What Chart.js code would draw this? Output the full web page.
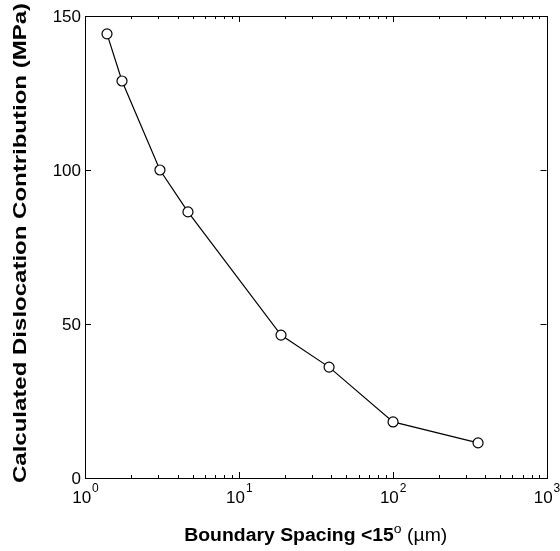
<!DOCTYPE html>
<html>
<head>
<meta charset="utf-8">
<script src="https://cdn.jsdelivr.net/npm/chart.js@4.4.1/dist/chart.umd.min.js"></script>
<style>
  html, body { margin: 0; padding: 0; background: #fff; }
  #wrap { width: 560px; height: 551px; }
</style>
</head>
<body>
<div id="wrap"><canvas id="chart"></canvas></div>
<script>
// boundary spacing (um) vs calculated dislocation contribution (MPa)
const spacing = [1.39, 1.74, 3.07, 4.67, 18.8, 38.6, 100.6, 359];
const stress = [144.2, 128.9, 100.0, 86.4, 46.4, 36.0, 18.2, 11.4];

const xDecades = [1, 10, 100, 1000];
const xDecadeExps = ["0", "1", "2", "3"];
const yTicks = [0, 50, 100, 150];

const FONT = "'Liberation Sans', Arial, Helvetica, sans-serif";

const matlabAxes = {
  id: "matlabAxes",
  afterDraw(chart) {
    const ctx = chart.ctx;
    const area = chart.chartArea;
    const xs = chart.scales.x;
    const ys = chart.scales.y;

    ctx.save();
    ctx.strokeStyle = "#000";
    ctx.lineWidth = 1;
    ctx.strokeRect(Math.round(area.left) + 0.5, Math.round(area.top) + 0.5,
      Math.round(area.right - area.left), Math.round(area.bottom - area.top));

    // x ticks, inward on bottom and top
    const tick = (px, len) => {
      const x = Math.round(px) + 0.5;
      ctx.beginPath();
      ctx.moveTo(x, area.bottom);
      ctx.lineTo(x, area.bottom - len);
      ctx.moveTo(x, area.top);
      ctx.lineTo(x, area.top + len);
      ctx.stroke();
    };
    for (let d = 0; d < xDecades.length; d++) {
      tick(xs.getPixelForValue(xDecades[d]), 6);
      if (d < xDecades.length - 1) {
        for (let m = 2; m <= 9; m++) tick(xs.getPixelForValue(xDecades[d] * m), 3);
      }
    }

    // y ticks, inward on left and right
    yTicks.forEach((v) => {
      const y = Math.round(ys.getPixelForValue(v)) + 0.5;
      ctx.beginPath();
      ctx.moveTo(area.left, y);
      ctx.lineTo(area.left + 6, y);
      ctx.moveTo(area.right, y);
      ctx.lineTo(area.right - 6, y);
      ctx.stroke();
    });

    ctx.fillStyle = "#000";

    // y tick labels
    ctx.font = "17px " + FONT;
    ctx.textAlign = "right";
    ctx.textBaseline = "middle";
    yTicks.forEach((v) => {
      ctx.fillText(String(v), area.left - 4, ys.getPixelForValue(v) + 1);
    });

    // x tick labels: 10 with superscript exponent
    ctx.textBaseline = "alphabetic";
    ctx.textAlign = "left";
    xDecades.forEach((v, i) => {
      ctx.font = "17px " + FONT;
      const w1 = ctx.measureText("10").width;
      ctx.font = "12px " + FONT;
      const w2 = ctx.measureText(xDecadeExps[i]).width;
      const start = xs.getPixelForValue(v) - (w1 + w2) / 2;
      ctx.font = "17px " + FONT;
      ctx.fillText("10", start, area.bottom + 25);
      ctx.font = "12px " + FONT;
      ctx.fillText(xDecadeExps[i], start + w1 + 1, area.bottom + 14);
    });

    // x axis title, stretched a little to match the original width
    const parts = [
      { t: "Boundary Spacing <15", f: "bold 18px " + FONT, dy: 0 },
      { t: "o", f: "13px " + FONT, dy: -8 },
      { t: " (\u00b5m)", f: "18px " + FONT, dy: 0 },
    ];
    let total = 0;
    parts.forEach((p) => { ctx.font = p.f; p.w = ctx.measureText(p.t).width; total += p.w; });
    const sx = 263 / total;
    ctx.save();
    ctx.translate((area.left + area.right) / 2 - 263 / 2, 541);
    ctx.scale(sx, 1);
    let cx = 0;
    parts.forEach((p) => {
      ctx.font = p.f;
      ctx.fillText(p.t, cx, p.dy);
      cx += p.w;
    });
    ctx.restore();

    // y axis title
    const yTitle = "Calculated Dislocation Contribution (MPa)";
    ctx.font = "bold 18px " + FONT;
    const sy = 480 / ctx.measureText(yTitle).width;
    ctx.translate(26, 243);
    ctx.rotate(-Math.PI / 2);
    ctx.scale(sy, 1);
    ctx.textAlign = "center";
    ctx.fillText(yTitle, 0, 0);
    ctx.restore();
  },
};

new Chart(document.getElementById("chart"), {
  type: "scatter",
  data: {
    datasets: [
      {
        data: spacing.map((x, i) => ({ x: x, y: stress[i] })),
        showLine: true,
        borderColor: "#000",
        borderWidth: 1.2,
        pointRadius: 5,
        pointBackgroundColor: "#fff",
        pointBorderColor: "#000",
        pointBorderWidth: 1.2,
        clip: false,
      },
    ],
  },
  options: {
    responsive: true,
    maintainAspectRatio: false,
    animation: false,
    devicePixelRatio: 1,
    layout: { padding: { left: 85, right: 13.5, top: 16, bottom: 73 } },
    plugins: { legend: { display: false }, tooltip: { enabled: false } },
    scales: {
      x: { type: "logarithmic", min: 1, max: 1000, display: false },
      y: { type: "linear", min: 0, max: 150, display: false },
    },
  },
  plugins: [matlabAxes],
});
</script>
</body>
</html>
